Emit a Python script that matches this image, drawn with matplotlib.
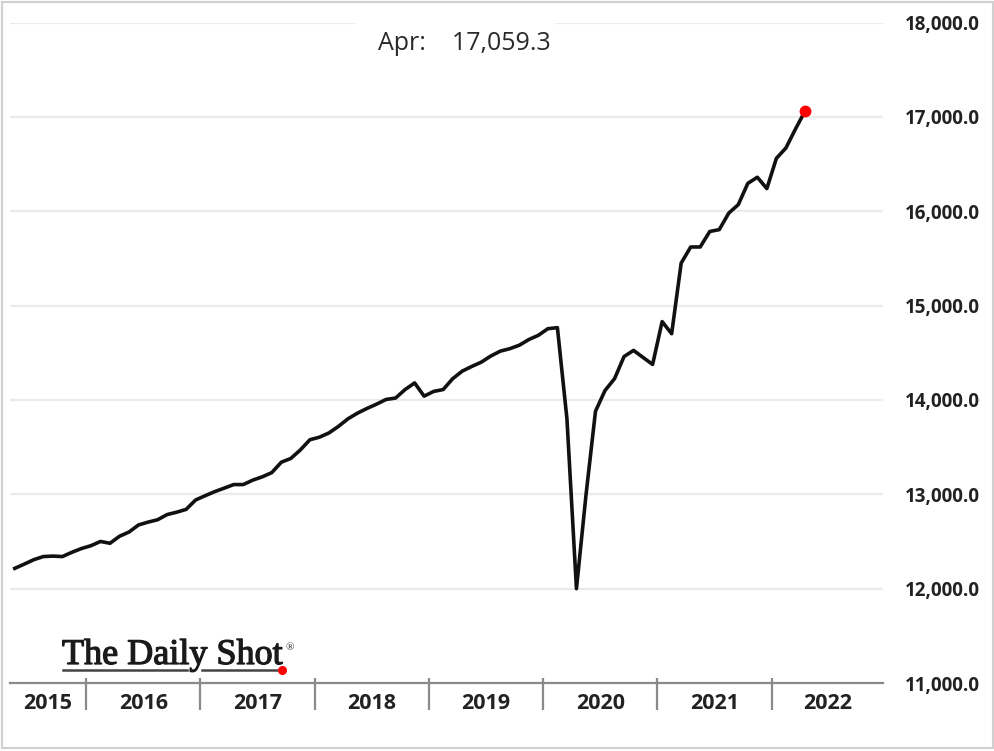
import numpy as np
import matplotlib
matplotlib.use("Agg")
from matplotlib import pyplot as plt
from matplotlib.patches import Rectangle
from matplotlib.lines import Line2D
import matplotlib.patheffects as pe

# monthly values, May 2015 .. Apr 2022
v2015 = [12215, 12260, 12307, 12340, 12345, 12340, 12385, 12425]
v2016 = [12455, 12500, 12481, 12555, 12600, 12675, 12705, 12730, 12785, 12810, 12840, 12940]
v2017 = [12985, 13028, 13065, 13103, 13103, 13150, 13185, 13230, 13340, 13380, 13470, 13578]
v2018 = [13605, 13650, 13720, 13800, 13860, 13910, 13955, 14005, 14020, 14110, 14180, 14040]
v2019 = [14090, 14110, 14225, 14305, 14355, 14400, 14465, 14517, 14543, 14580, 14640, 14685]
v2020 = [14755, 14766, 13800, 12000, 12990, 13880, 14100, 14225, 14460, 14525, 14450, 14376]
v2021 = [14830, 14702, 15450, 15621, 15621, 15785, 15805, 15980, 16070, 16295, 16360, 16240]
v2022 = [16560, 16670, 16870, 17059.3]
values = v2015 + v2016 + v2017 + v2018 + v2019 + v2020 + v2021 + v2022

years = ['2015', '2016', '2017', '2018', '2019', '2020', '2021', '2022']
yticks = [11000, 12000, 13000, 14000, 15000, 16000, 17000, 18000]
last_label = 'Apr:    17,059.3'

# x in months since Jan 2015 (month centred)
first_month = 4
x = np.arange(first_month, first_month + len(values)) + 0.5
x_left, x_right = 4.0, 95.7

W, H = 995, 751
fig = plt.figure(figsize=(W / 100, H / 100), dpi=100)
ax = fig.add_axes([10 / W, (H - 683) / H, 873 / W, 660.5 / H])
ax.set_xlim(x_left, x_right)
ax.set_ylim(11000, 18000)

for yv in yticks[1:]:
    ax.axhline(yv, color='#ebebeb', lw=1.6, zorder=1)

ax.plot(x, values, color='#111111', lw=2.6, solid_joinstyle='round', zorder=3)
ax.plot(x[-1], values[-1], 'o', color='#ff0000', ms=7.5, zorder=4)

for s in ['top', 'left', 'right']:
    ax.spines[s].set_visible(False)
ax.spines['bottom'].set_color('#8a8a8a')
ax.spines['bottom'].set_linewidth(1.6)

ax.yaxis.tick_right()
ax.set_yticks(yticks)
ax.set_yticklabels(['{:,.1f}'.format(v) for v in yticks],
                   fontfamily='Open Sans', fontweight='bold', fontsize=13.5, color='#222222')
ax.tick_params(axis='y', length=0, pad=16)

# year separators and labels
bounds = [12 * i for i in range(1, len(years))]
ax.vlines(bounds, -0.041, 0.008, transform=ax.get_xaxis_transform(),
          color='#8a8a8a', lw=1.6, clip_on=False)
edges = [x_left] + bounds + [x_right]
mids = [(edges[i] + edges[i + 1]) / 2 for i in range(len(years))]
ax.set_xticks(mids)
ax.set_xticklabels(years, fontfamily='Open Sans', fontweight='bold', fontsize=15.5, color='#222222')
ax.tick_params(axis='x', length=0, pad=7)

# last value box over top gridline
fig.add_artist(Rectangle((355 / W, (H - 62) / H), 200 / W, 44 / H, transform=fig.transFigure,
                         facecolor='white', edgecolor='none', zorder=5))
fig.text(464 / W, (H - 43) / H, last_label, ha='center', va='center', fontfamily='Open Sans',
         fontsize=18, color='#2a2a2a', zorder=6)

# logo
fig.text(62 / W, (H - 664) / H, 'The Daily Shot', ha='left', va='baseline',
         fontfamily='Liberation Serif', fontsize=26, color='#1a1a1a', zorder=6,
         path_effects=[pe.withStroke(linewidth=0.9, foreground='#1a1a1a')])
fig.text(286 / W, (H - 650) / H, '\u00ae', ha='left', va='baseline',
         fontfamily='Liberation Serif', fontsize=8, color='#222222', zorder=6)
for x0, x1 in [(63, 187), (202, 278)]:
    fig.add_artist(Line2D([x0 / W, x1 / W], [(H - 670) / H] * 2, transform=fig.transFigure,
                          color='#444444', lw=1.8, zorder=6))
fig.add_artist(Line2D([282 / W], [(H - 670) / H], marker='o', color='#ff0000', ms=5.5,
                      transform=fig.transFigure, zorder=7))

# outer frame
fig.add_artist(Rectangle((2 / W, 3 / H), 991 / W, 746 / H, transform=fig.transFigure,
                         fill=False, edgecolor='#d0d0d0', lw=1.5, zorder=8))

fig.savefig('out.png', dpi=100)
